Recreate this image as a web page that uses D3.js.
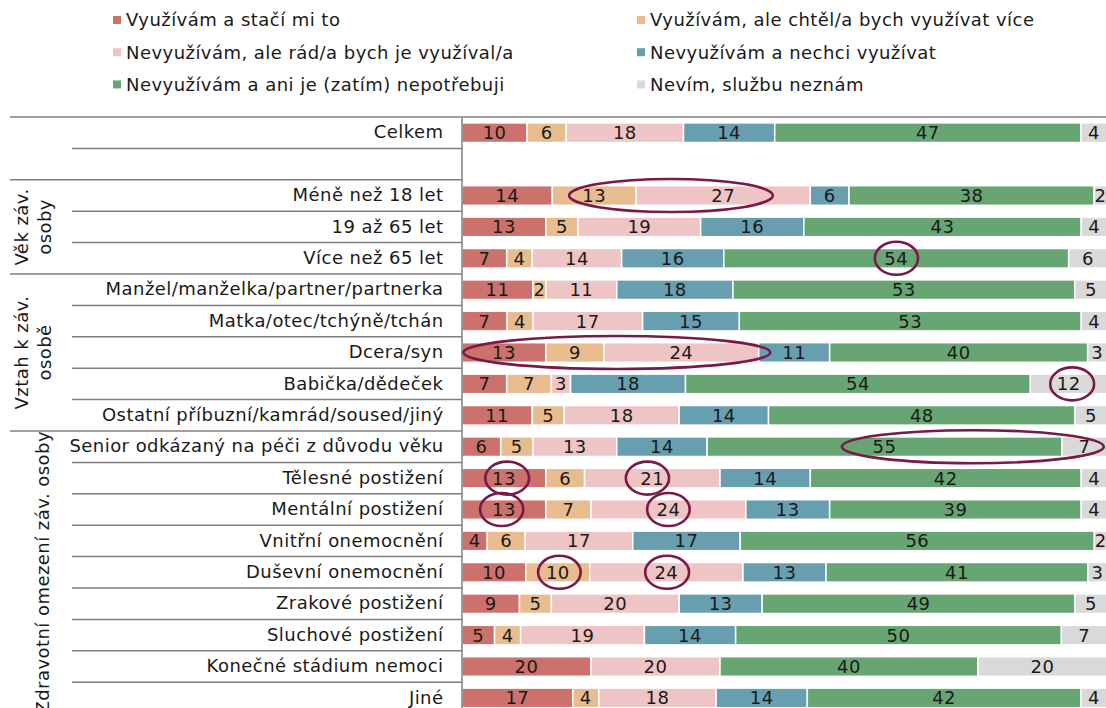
<!DOCTYPE html>
<html>
<head>
<meta charset="utf-8">
<script src="https://cdn.jsdelivr.net/npm/d3@7"></script>
<style>
  body { margin: 0; background: #fff; }
  svg text { font-family: 'DejaVu Sans', Verdana, sans-serif; fill: #1a1a1a; letter-spacing: 0.45px; }
</style>
</head>
<body>
<div id="chart"></div>
<script>
// categories, top to bottom ('' = empty spacer row)
const categories = [
  'Celkem', '',
  'Méně než 18 let', '19 až 65 let', 'Více než 65 let',
  'Manžel/manželka/partner/partnerka', 'Matka/otec/tchýně/tchán', 'Dcera/syn',
  'Babička/dědeček', 'Ostatní příbuzní/kamrád/soused/jiný',
  'Senior odkázaný na péči z důvodu věku', 'Tělesné postižení', 'Mentální postižení',
  'Vnitřní onemocnění', 'Duševní onemocnění', 'Zrakové postižení', 'Sluchové postižení',
  'Konečné stádium nemoci', 'Jiné'
];

const seriesNames = [
  'Využívám a stačí mi to',
  'Využívám, ale chtěl/a bych využívat více',
  'Nevyužívám, ale rád/a bych je využíval/a',
  'Nevyužívám a nechci využívat',
  'Nevyužívám a ani je (zatím) nepotřebuji',
  'Nevím, službu neznám'
];
const colors = ['#cd716d', '#e8bc8f', '#eec5c4', '#689fb0', '#67a673', '#d9d9d9'];

// series values, same order as categories
const usesEnough   = [10, null, 14, 13, 7, 11, 7, 13, 7, 11, 6, 13, 13, 4, 10, 9, 5, 20, 17];
const usesWantMore = [6, null, 13, 5, 4, 2, 4, 9, 7, 5, 5, 6, 7, 6, 10, 5, 4, 0, 4];
const wouldLike    = [18, null, 27, 19, 14, 11, 17, 24, 3, 18, 13, 21, 24, 17, 24, 20, 19, 20, 18];
const doesNotWant  = [14, null, 6, 16, 16, 18, 15, 11, 18, 14, 14, 14, 13, 17, 13, 13, 14, 0, 14];
const notNeeded    = [47, null, 38, 43, 54, 53, 53, 40, 54, 48, 55, 42, 39, 56, 41, 49, 50, 40, 42];
const dontKnow     = [4, null, 2, 4, 6, 5, 4, 3, 12, 5, 7, 4, 4, 2, 3, 5, 7, 20, 4];

// row groups drawn as rotated labels on the left
const groups = [
  { lines: ['Věk záv.', 'osoby'], first: 2, last: 4 },
  { lines: ['Vztah k záv.', 'osobě'], first: 5, last: 9 },
  { lines: ['Zdravotní omezení záv. osoby'], first: 10, last: 18 }
];

// hand-drawn highlight ellipses (row index, from/to in percent of the bar)
const highlights = [
  { row: 2, from: 16.6, to: 48.2 },
  { row: 4, from: 64.0, to: 70.7 },
  { row: 7, from: 0.2, to: 47.8 },
  { row: 8, from: 91.2, to: 98.0 },
  { row: 10, from: 58.9, to: 99.5 },
  { row: 11, from: 3.6, to: 10.4 },
  { row: 11, from: 25.4, to: 32.1 },
  { row: 12, from: 2.8, to: 9.5 },
  { row: 12, from: 28.7, to: 35.3 },
  { row: 14, from: 11.8, to: 18.4 },
  { row: 14, from: 28.4, to: 35.2 }
];

const width = 1106, height = 708;
const plotTop = 117, rowStep = 31.4, barH = 19.6;
const plotLeft = 462, plotRight = 1107;
const fontSize = '18px';

const rows = categories.map((c, i) => ({
  idx: i, name: c,
  s0: usesEnough[i], s1: usesWantMore[i], s2: wouldLike[i],
  s3: doesNotWant[i], s4: notNeeded[i], s5: dontKnow[i]
}));
const keys = ['s0', 's1', 's2', 's3', 's4', 's5'];
const dataRows = rows.filter(r => r.s0 !== null);

const svg = d3.select('#chart').append('svg')
  .attr('width', width)
  .attr('height', height);

const y = d3.scaleBand()
  .domain(d3.range(categories.length))
  .range([plotTop, plotTop + rowStep * categories.length])
  .padding(0);

const x = d3.scaleLinear().domain([0, 1]).range([plotLeft, plotRight]);
const xPct = d3.scaleLinear().domain([0, 100]).range([plotLeft, plotRight]);

const stacked = d3.stack().keys(keys).offset(d3.stackOffsetExpand)(dataRows);

// separator lines in the label area
const groupStarts = new Set(groups.map(g => g.first));
svg.append('g')
  .selectAll('line')
  .data(d3.range(1, categories.length))
  .enter().append('line')
  .attr('x1', i => groupStarts.has(i) ? 10 : 72)
  .attr('x2', plotLeft)
  .attr('y1', i => y(i))
  .attr('y2', i => y(i))
  .attr('stroke', '#7f7f7f')
  .attr('stroke-width', 1.5);

svg.append('line')
  .attr('x1', 10).attr('x2', width)
  .attr('y1', plotTop).attr('y2', plotTop)
  .attr('stroke', '#7f7f7f')
  .attr('stroke-width', 1.5);

// bars
const layers = svg.append('g')
  .selectAll('g')
  .data(stacked)
  .enter().append('g')
  .attr('fill', (d, i) => colors[i]);

layers.selectAll('rect')
  .data(d => d.filter(s => s[1] - s[0] > 0))
  .enter().append('rect')
  .attr('x', d => x(d[0]))
  .attr('y', d => y(d.data.idx) + (y.bandwidth() - barH) / 2)
  .attr('width', d => x(d[1]) - x(d[0]))
  .attr('height', barH)
  .attr('stroke', '#fff')
  .attr('stroke-width', 1.5);

// value labels
stacked.forEach(layer => {
  svg.append('g')
    .selectAll('text')
    .data(layer.filter(s => s.data[layer.key] > 0))
    .enter().append('text')
    .attr('text-anchor', 'middle')
    .attr('x', d => (x(d[0]) + x(d[1])) / 2)
    .attr('y', d => y(d.data.idx) + y.bandwidth() / 2 + 6.5)
    .style('font-size', fontSize)
    .text(d => d.data[layer.key]);
});

// category axis
const axis = svg.append('g')
  .attr('transform', `translate(${plotLeft - 0.5},0)`)
  .call(d3.axisLeft(y).tickSize(0).tickSizeOuter(0).tickPadding(18)
    .tickFormat(i => categories[i]));
axis.select('.domain').attr('stroke', '#7f7f7f').attr('stroke-width', 1.5);
axis.selectAll('.tick text')
  .style('font-size', fontSize)
  .style('font-family', "'DejaVu Sans', Verdana, sans-serif")
  .attr('fill', '#1a1a1a');

// group labels
groups.forEach(g => {
  const cy = (y(g.first) + y(g.last) + y.bandwidth()) / 2;
  const xs = g.lines.length === 2 ? [22, 45] : [43];
  g.lines.forEach((line, k) => {
    svg.append('text')
      .attr('transform', `translate(${xs[k]},${cy}) rotate(-90)`)
      .attr('text-anchor', 'middle')
      .attr('dy', '0.35em')
      .style('font-size', fontSize)
      .text(line);
  });
});

// highlight ellipses
svg.append('g')
  .selectAll('ellipse')
  .data(highlights)
  .enter().append('ellipse')
  .attr('cx', d => (xPct(d.from) + xPct(d.to)) / 2)
  .attr('cy', d => y(d.row) + y.bandwidth() / 2)
  .attr('rx', d => (xPct(d.to) - xPct(d.from)) / 2)
  .attr('ry', 16.5)
  .attr('fill', 'none')
  .attr('stroke', '#7a1848')
  .attr('stroke-width', 2.6);

// legend
const legend = svg.append('g')
  .selectAll('g')
  .data(seriesNames)
  .enter().append('g')
  .attr('transform', (d, i) => `translate(${i % 2 === 0 ? 113 : 637},${20 + Math.floor(i / 2) * 32.2})`);

legend.append('rect')
  .attr('x', 0).attr('y', -4)
  .attr('width', 8).attr('height', 8)
  .attr('fill', (d, i) => colors[i]);

legend.append('text')
  .attr('x', 13)
  .attr('dy', '0.36em')
  .style('font-size', fontSize)
  .text(d => d);
</script>
</body>
</html>
